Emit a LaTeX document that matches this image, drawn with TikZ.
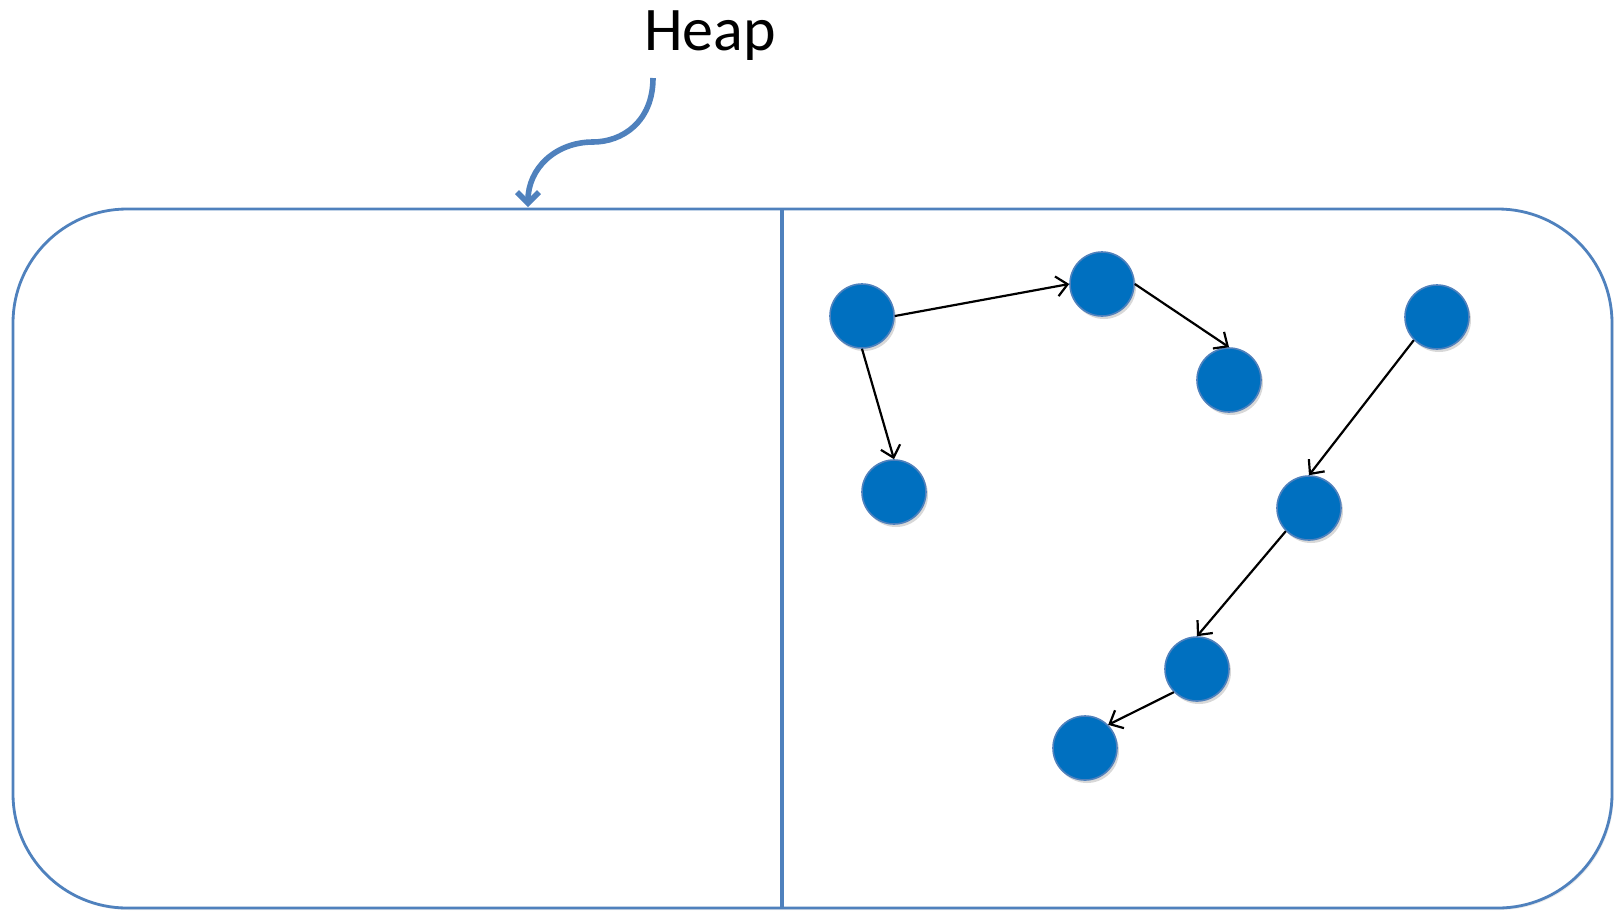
\documentclass[tikz,border=0pt]{standalone}
\usepackage{fontspec}
\setmainfont{Carlito}
\usetikzlibrary{arrows.meta,shadows}
\definecolor{heapblue}{HTML}{4F81BD}
\definecolor{objblue}{HTML}{0070C0}

\begin{document}
\begin{tikzpicture}[
    x=0.5pt, y=-0.5pt,
    heapbox/.style={draw=heapblue, line width=1.4pt, rounded corners=57pt, fill=white,
        drop shadow={opacity=0.15, shadow xshift=0.8pt, shadow yshift=-1pt}},
    divider/.style={draw=heapblue, line width=2.2pt},
    obj/.style={circle, minimum size=32pt, inner sep=0pt, fill=objblue, draw=heapblue, line width=0.8pt,
        drop shadow={opacity=0.3, shadow xshift=1pt, shadow yshift=-1.5pt}},
    ref/.style={-{Straight Barb[length=5.5pt, width=10pt, line width=1.1pt]}, line width=1.1pt, black},
    pointer/.style={-{Straight Barb[length=5.5pt, width=11pt, line width=2.8pt]}, line width=2.8pt, heapblue},
    lbl/.style={font=\fontsize{31}{37}\selectfont},
]
\useasboundingbox (0,0) rectangle (1614,912);
% heap area
\draw[heapbox] (13,209) rectangle (1612,908);
\draw[divider] (782,209) -- (782,908);
\node[lbl, anchor=base] (heap) at (710,50) {Heap};
\coordinate (ptr) at (528,207);
\draw[pointer] (653,78) .. controls (653,122) and (622,142) .. (593,142)
    .. controls (556,142) and (528,168) .. (ptr);
% objects
\node[obj] (o1) at (862,316) {};
\node[obj] (o2) at (1102,284) {};
\node[obj] (o3) at (1229,380) {};
\node[obj] (o4) at (894,492) {};
\node[obj] (o5) at (1437,317) {};
\node[obj] (o6) at (1309,508) {};
\node[obj] (o7) at (1197,669) {};
\node[obj] (o8) at (1085,748) {};
% references
\draw[ref] (o1.east) -- (o2.west);
\draw[ref] (o1.south) -- (o4.north);
\draw[ref] (o2.east) -- (o3.north);
\draw[ref] (o5.-135) -- (o6.north);
\draw[ref] (o6.-135) -- (o7.north);
\draw[ref] (o7.-135) -- (o8.45);
\end{tikzpicture}
\end{document}
